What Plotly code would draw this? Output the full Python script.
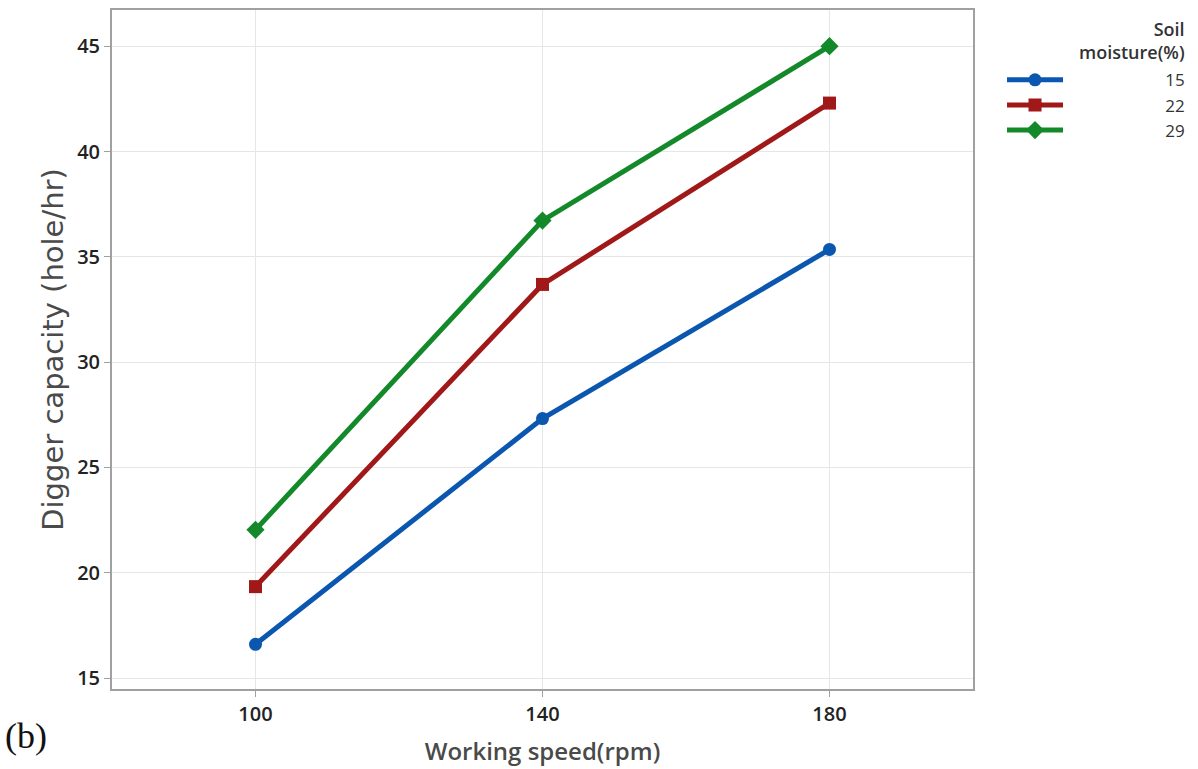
import plotly.graph_objects as go

speeds = [100, 140, 180]
moisture_levels = ["15", "22", "29"]
capacity_15 = [16.6, 27.32, 35.35]
capacity_22 = [19.34, 33.69, 42.3]
capacity_29 = [22.04, 36.72, 45.0]

series = [capacity_15, capacity_22, capacity_29]
colors = ["#0b57b0", "#a01818", "#13892a"]
symbols = ["circle", "square", "diamond"]
msizes = [13, 13, 14]

PAD = "\u00a0" * 22

fig = go.Figure()
for name, vals, c, s, ms in zip(moisture_levels, series, colors, symbols, msizes):
    fig.add_trace(go.Scatter(
        x=speeds, y=vals, name=PAD + name, mode="lines+markers",
        line=dict(color=c, width=5),
        marker=dict(symbol=s, size=ms, color=c),
    ))

base = "Open Sans, Noto Sans, sans-serif"
tick_font = dict(family=base, size=20, color="#222", weight=600)
fig.update_layout(
    width=1198, height=769,
    margin=dict(l=112, r=225, t=8, b=79),
    paper_bgcolor="white", plot_bgcolor="white",
    font=dict(family=base),
    showlegend=True,
    legend=dict(
        x=1.0337, xanchor="left", y=0.923, yanchor="top",
        font=dict(family=base, size=17, color="#333"),
        itemwidth=56, tracegroupgap=0, bgcolor="rgba(0,0,0,0)",
    ),
    xaxis=dict(
        range=[80, 200], tickvals=speeds, ticktext=[str(s) for s in speeds],
        showgrid=True, gridcolor="#e6e6e6", gridwidth=1,
        showline=True, linecolor="#a0a0a0", linewidth=2, mirror=True,
        ticks="outside", ticklen=6, tickcolor="#a0a0a0", tickfont=tick_font, zeroline=False,
        title=dict(text="Working speed(rpm)", font=dict(family=base, size=24, color="#4a4a4a", weight=600), standoff=17),
    ),
    yaxis=dict(
        range=[14.48, 46.72], tickvals=[15, 20, 25, 30, 35, 40, 45],
        showgrid=True, gridcolor="#e6e6e6", gridwidth=1,
        showline=True, linecolor="#a0a0a0", linewidth=2, mirror=True,
        ticks="outside", ticklen=6, tickcolor="#a0a0a0", tickfont=tick_font, zeroline=False,
        title=dict(text="Digger capacity (hole/hr)", font=dict(family="DejaVu Sans, sans-serif", size=29, color="#4a4a4a"), standoff=5),
    ),
    annotations=[
        dict(text="Soil<br>moisture(%)", xref="paper", yref="paper", x=1.2485, y=0.992, xanchor="right",
             yanchor="top", align="right", showarrow=False,
             font=dict(family=base, size=18, color="#333", weight=600)),
        dict(text="(b)", xref="paper", yref="paper", x=-0.1266, y=-0.069, xanchor="left",
             yanchor="middle", showarrow=False,
             font=dict(family="Liberation Serif, Times New Roman, serif", size=36, color="#111")),
    ],
)

fig.write_html("out.html")
